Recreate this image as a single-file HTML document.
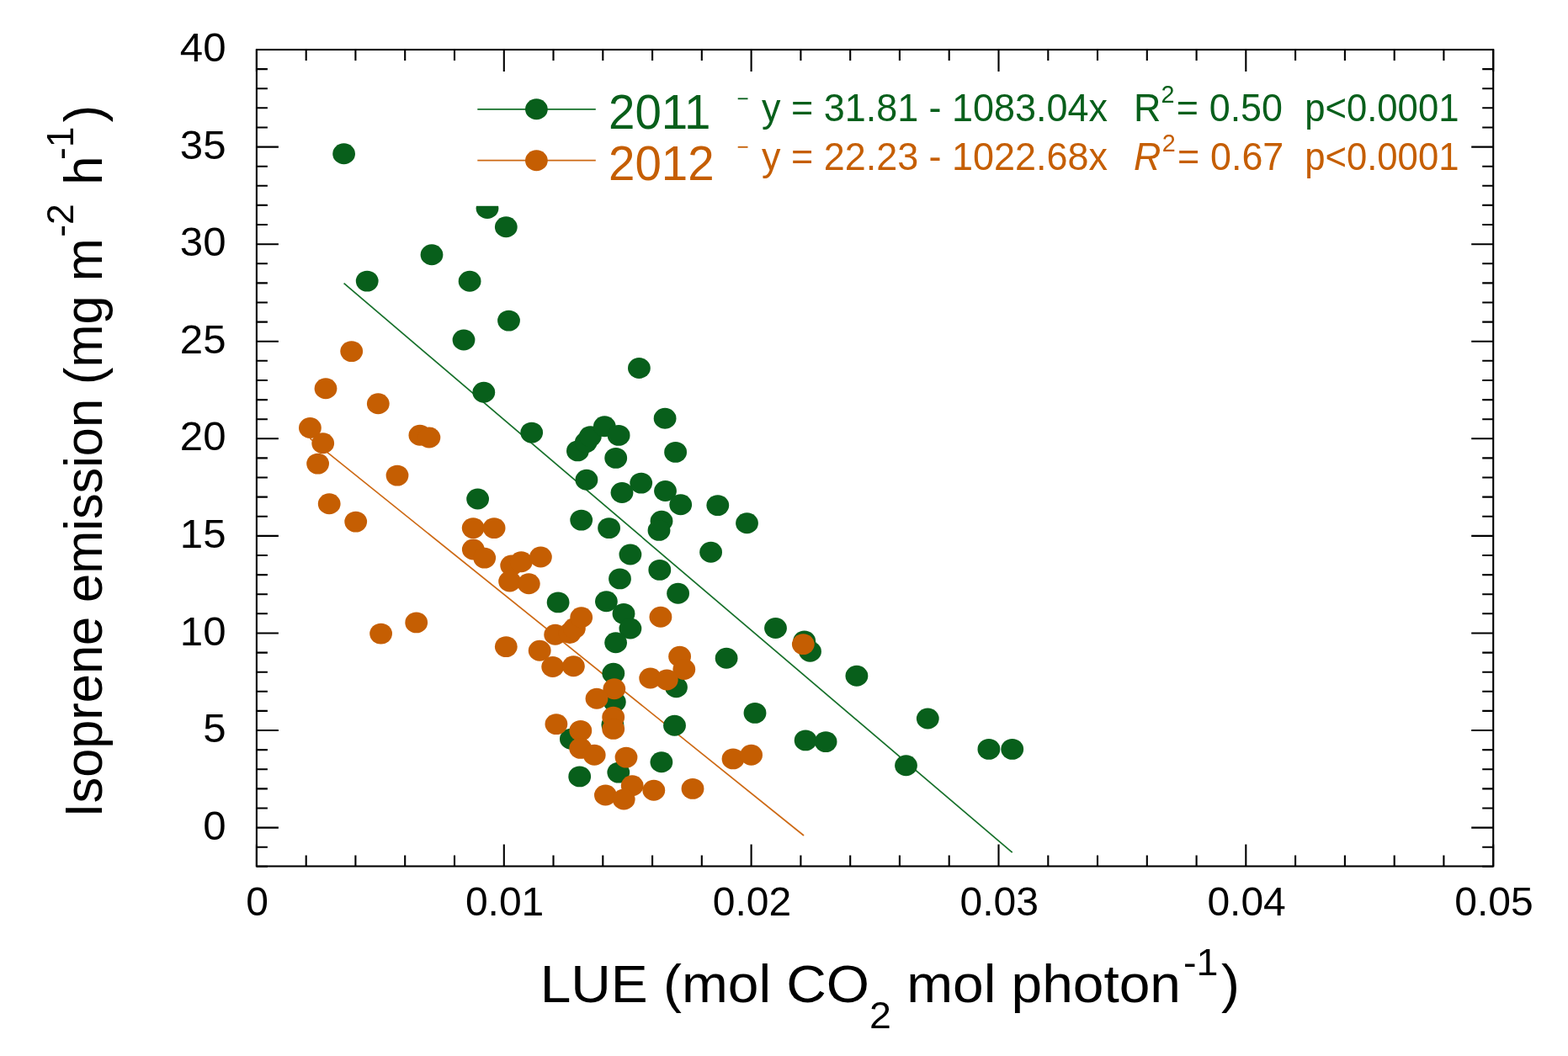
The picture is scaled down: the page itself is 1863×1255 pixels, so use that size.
<!DOCTYPE html><html><head><meta charset="utf-8"><style>html,body{margin:0;padding:0;background:#fff;}svg{display:block;}</style></head><body>
<svg width="1863" height="1255" viewBox="0 0 1863 1255" font-family="'Liberation Sans', sans-serif">
<rect width="1863" height="1255" fill="#fff"/>
<line x1="408.6" y1="336.7" x2="1202.7" y2="1013.2" stroke="#16702a" stroke-width="1.7"/>
<line x1="368.4" y1="521.1" x2="955.0" y2="993.0" stroke="#cd6914" stroke-width="1.7"/>
<g fill="#085f1b">
<ellipse cx="408.6" cy="182.7" rx="13.4" ry="12.45"/>
<ellipse cx="579.0" cy="247.5" rx="13.4" ry="12.45"/>
<ellipse cx="601.3" cy="269.8" rx="13.4" ry="12.45"/>
<ellipse cx="513.0" cy="302.7" rx="13.4" ry="12.45"/>
<ellipse cx="436.2" cy="334.1" rx="13.4" ry="12.45"/>
<ellipse cx="558.1" cy="334.2" rx="13.4" ry="12.45"/>
<ellipse cx="604.5" cy="381.1" rx="13.4" ry="12.45"/>
<ellipse cx="551.0" cy="404.0" rx="13.4" ry="12.45"/>
<ellipse cx="574.8" cy="466.3" rx="13.4" ry="12.45"/>
<ellipse cx="631.7" cy="514.1" rx="13.4" ry="12.45"/>
<ellipse cx="759.4" cy="437.5" rx="13.4" ry="12.45"/>
<ellipse cx="790.1" cy="497.2" rx="13.4" ry="12.45"/>
<ellipse cx="686.4" cy="535.9" rx="13.4" ry="12.45"/>
<ellipse cx="696.3" cy="525.6" rx="13.4" ry="12.45"/>
<ellipse cx="701.4" cy="518.6" rx="13.4" ry="12.45"/>
<ellipse cx="718.3" cy="506.8" rx="13.4" ry="12.45"/>
<ellipse cx="735.1" cy="517.4" rx="13.4" ry="12.45"/>
<ellipse cx="731.7" cy="544.4" rx="13.4" ry="12.45"/>
<ellipse cx="802.6" cy="537.4" rx="13.4" ry="12.45"/>
<ellipse cx="567.6" cy="593.0" rx="13.4" ry="12.45"/>
<ellipse cx="696.9" cy="570.2" rx="13.4" ry="12.45"/>
<ellipse cx="761.7" cy="574.1" rx="13.4" ry="12.45"/>
<ellipse cx="739.0" cy="585.5" rx="13.4" ry="12.45"/>
<ellipse cx="790.5" cy="583.5" rx="13.4" ry="12.45"/>
<ellipse cx="808.7" cy="599.8" rx="13.4" ry="12.45"/>
<ellipse cx="852.8" cy="600.6" rx="13.4" ry="12.45"/>
<ellipse cx="887.5" cy="621.8" rx="13.4" ry="12.45"/>
<ellipse cx="690.7" cy="618.1" rx="13.4" ry="12.45"/>
<ellipse cx="723.6" cy="627.6" rx="13.4" ry="12.45"/>
<ellipse cx="786.0" cy="619.2" rx="13.4" ry="12.45"/>
<ellipse cx="783.0" cy="630.4" rx="13.4" ry="12.45"/>
<ellipse cx="748.9" cy="659.0" rx="13.4" ry="12.45"/>
<ellipse cx="844.6" cy="656.3" rx="13.4" ry="12.45"/>
<ellipse cx="783.8" cy="677.4" rx="13.4" ry="12.45"/>
<ellipse cx="736.5" cy="687.9" rx="13.4" ry="12.45"/>
<ellipse cx="805.6" cy="705.3" rx="13.4" ry="12.45"/>
<ellipse cx="663.1" cy="715.9" rx="13.4" ry="12.45"/>
<ellipse cx="720.4" cy="714.7" rx="13.4" ry="12.45"/>
<ellipse cx="741.0" cy="729.4" rx="13.4" ry="12.45"/>
<ellipse cx="748.9" cy="747.0" rx="13.4" ry="12.45"/>
<ellipse cx="731.6" cy="763.8" rx="13.4" ry="12.45"/>
<ellipse cx="863.1" cy="782.2" rx="13.4" ry="12.45"/>
<ellipse cx="728.8" cy="800.3" rx="13.4" ry="12.45"/>
<ellipse cx="803.5" cy="816.7" rx="13.4" ry="12.45"/>
<ellipse cx="730.3" cy="834.2" rx="13.4" ry="12.45"/>
<ellipse cx="727.9" cy="861.3" rx="13.4" ry="12.45"/>
<ellipse cx="801.5" cy="862.2" rx="13.4" ry="12.45"/>
<ellipse cx="678.4" cy="878.3" rx="13.4" ry="12.45"/>
<ellipse cx="785.9" cy="905.8" rx="13.4" ry="12.45"/>
<ellipse cx="688.7" cy="922.9" rx="13.4" ry="12.45"/>
<ellipse cx="734.8" cy="918.1" rx="13.4" ry="12.45"/>
<ellipse cx="921.5" cy="746.5" rx="13.4" ry="12.45"/>
<ellipse cx="955.7" cy="761.9" rx="13.4" ry="12.45"/>
<ellipse cx="962.5" cy="774.2" rx="13.4" ry="12.45"/>
<ellipse cx="1017.9" cy="803.3" rx="13.4" ry="12.45"/>
<ellipse cx="897.0" cy="847.4" rx="13.4" ry="12.45"/>
<ellipse cx="957.1" cy="879.9" rx="13.4" ry="12.45"/>
<ellipse cx="981.1" cy="881.6" rx="13.4" ry="12.45"/>
<ellipse cx="1102.3" cy="854.0" rx="13.4" ry="12.45"/>
<ellipse cx="1076.5" cy="909.7" rx="13.4" ry="12.45"/>
<ellipse cx="1174.9" cy="890.4" rx="13.4" ry="12.45"/>
<ellipse cx="1202.7" cy="890.4" rx="13.4" ry="12.45"/>
</g>
<g fill="#c55e02">
<ellipse cx="417.7" cy="417.6" rx="13.4" ry="12.45"/>
<ellipse cx="387.0" cy="461.8" rx="13.4" ry="12.45"/>
<ellipse cx="449.3" cy="479.8" rx="13.4" ry="12.45"/>
<ellipse cx="368.4" cy="508.5" rx="13.4" ry="12.45"/>
<ellipse cx="383.7" cy="526.7" rx="13.4" ry="12.45"/>
<ellipse cx="377.6" cy="551.1" rx="13.4" ry="12.45"/>
<ellipse cx="498.9" cy="517.3" rx="13.4" ry="12.45"/>
<ellipse cx="509.9" cy="520.0" rx="13.4" ry="12.45"/>
<ellipse cx="472.0" cy="565.1" rx="13.4" ry="12.45"/>
<ellipse cx="391.2" cy="598.7" rx="13.4" ry="12.45"/>
<ellipse cx="422.7" cy="620.1" rx="13.4" ry="12.45"/>
<ellipse cx="452.6" cy="753.1" rx="13.4" ry="12.45"/>
<ellipse cx="494.7" cy="739.9" rx="13.4" ry="12.45"/>
<ellipse cx="601.3" cy="768.6" rx="13.4" ry="12.45"/>
<ellipse cx="562.2" cy="627.6" rx="13.4" ry="12.45"/>
<ellipse cx="587.1" cy="627.6" rx="13.4" ry="12.45"/>
<ellipse cx="562.3" cy="653.0" rx="13.4" ry="12.45"/>
<ellipse cx="575.7" cy="663.1" rx="13.4" ry="12.45"/>
<ellipse cx="607.7" cy="672.0" rx="13.4" ry="12.45"/>
<ellipse cx="619.3" cy="667.7" rx="13.4" ry="12.45"/>
<ellipse cx="642.4" cy="662.0" rx="13.4" ry="12.45"/>
<ellipse cx="605.6" cy="691.0" rx="13.4" ry="12.45"/>
<ellipse cx="628.3" cy="693.8" rx="13.4" ry="12.45"/>
<ellipse cx="659.7" cy="754.2" rx="13.4" ry="12.45"/>
<ellipse cx="677.0" cy="752.5" rx="13.4" ry="12.45"/>
<ellipse cx="682.4" cy="746.7" rx="13.4" ry="12.45"/>
<ellipse cx="690.7" cy="733.7" rx="13.4" ry="12.45"/>
<ellipse cx="641.2" cy="773.3" rx="13.4" ry="12.45"/>
<ellipse cx="656.7" cy="792.5" rx="13.4" ry="12.45"/>
<ellipse cx="681.4" cy="791.8" rx="13.4" ry="12.45"/>
<ellipse cx="729.8" cy="818.7" rx="13.4" ry="12.45"/>
<ellipse cx="709.0" cy="830.2" rx="13.4" ry="12.45"/>
<ellipse cx="728.7" cy="852.3" rx="13.4" ry="12.45"/>
<ellipse cx="728.7" cy="866.4" rx="13.4" ry="12.45"/>
<ellipse cx="660.9" cy="860.6" rx="13.4" ry="12.45"/>
<ellipse cx="689.8" cy="868.4" rx="13.4" ry="12.45"/>
<ellipse cx="689.7" cy="889.4" rx="13.4" ry="12.45"/>
<ellipse cx="706.2" cy="897.3" rx="13.4" ry="12.45"/>
<ellipse cx="744.0" cy="900.1" rx="13.4" ry="12.45"/>
<ellipse cx="751.2" cy="933.7" rx="13.4" ry="12.45"/>
<ellipse cx="776.8" cy="939.2" rx="13.4" ry="12.45"/>
<ellipse cx="719.4" cy="945.0" rx="13.4" ry="12.45"/>
<ellipse cx="741.2" cy="950.0" rx="13.4" ry="12.45"/>
<ellipse cx="823.0" cy="937.4" rx="13.4" ry="12.45"/>
<ellipse cx="784.9" cy="733.3" rx="13.4" ry="12.45"/>
<ellipse cx="807.6" cy="780.3" rx="13.4" ry="12.45"/>
<ellipse cx="812.8" cy="795.5" rx="13.4" ry="12.45"/>
<ellipse cx="772.7" cy="806.0" rx="13.4" ry="12.45"/>
<ellipse cx="792.3" cy="808.0" rx="13.4" ry="12.45"/>
<ellipse cx="954.3" cy="765.6" rx="13.4" ry="12.45"/>
<ellipse cx="871.0" cy="901.9" rx="13.4" ry="12.45"/>
<ellipse cx="892.6" cy="897.2" rx="13.4" ry="12.45"/>
</g>
<rect x="545" y="90" width="1200" height="154.8" fill="#fff"/>
<g stroke="#000" stroke-width="2.1" fill="none" stroke-linecap="square">
<rect x="304.9" y="59.0" width="1469.3000000000002" height="970.5"/>
<path d="M304.9 1029.8h13M1774.2 1029.8h-13M304.9 1006.7h13M1774.2 1006.7h-13M304.9 983.6h26M1774.2 983.6h-26M304.9 960.5h13M1774.2 960.5h-13M304.9 937.4h13M1774.2 937.4h-13M304.9 914.3h13M1774.2 914.3h-13M304.9 891.1h13M1774.2 891.1h-13M304.9 868.0h26M1774.2 868.0h-26M304.9 844.9h13M1774.2 844.9h-13M304.9 821.8h13M1774.2 821.8h-13M304.9 798.7h13M1774.2 798.7h-13M304.9 775.6h13M1774.2 775.6h-13M304.9 752.5h26M1774.2 752.5h-26M304.9 729.3h13M1774.2 729.3h-13M304.9 706.2h13M1774.2 706.2h-13M304.9 683.1h13M1774.2 683.1h-13M304.9 660.0h13M1774.2 660.0h-13M304.9 636.9h26M1774.2 636.9h-26M304.9 613.8h13M1774.2 613.8h-13M304.9 590.6h13M1774.2 590.6h-13M304.9 567.5h13M1774.2 567.5h-13M304.9 544.4h13M1774.2 544.4h-13M304.9 521.3h26M1774.2 521.3h-26M304.9 498.2h13M1774.2 498.2h-13M304.9 475.1h13M1774.2 475.1h-13M304.9 452.0h13M1774.2 452.0h-13M304.9 428.8h13M1774.2 428.8h-13M304.9 405.7h26M1774.2 405.7h-26M304.9 382.6h13M1774.2 382.6h-13M304.9 359.5h13M1774.2 359.5h-13M304.9 336.4h13M1774.2 336.4h-13M304.9 313.3h13M1774.2 313.3h-13M304.9 290.2h26M1774.2 290.2h-26M304.9 267.0h13M1774.2 267.0h-13M304.9 243.9h13M1774.2 243.9h-13M304.9 220.8h13M1774.2 220.8h-13M304.9 197.7h13M1774.2 197.7h-13M304.9 174.6h26M1774.2 174.6h-26M304.9 151.5h13M1774.2 151.5h-13M304.9 128.3h13M1774.2 128.3h-13M304.9 105.2h13M1774.2 105.2h-13M304.9 82.1h13M1774.2 82.1h-13M304.9 59.0h26M1774.2 59.0h-26M304.9 1029.5v-26M304.9 59.0v26M363.7 1029.5v-13M363.7 59.0v13M422.4 1029.5v-13M422.4 59.0v13M481.2 1029.5v-13M481.2 59.0v13M540.0 1029.5v-13M540.0 59.0v13M598.8 1029.5v-26M598.8 59.0v26M657.5 1029.5v-13M657.5 59.0v13M716.3 1029.5v-13M716.3 59.0v13M775.1 1029.5v-13M775.1 59.0v13M833.8 1029.5v-13M833.8 59.0v13M892.6 1029.5v-26M892.6 59.0v26M951.4 1029.5v-13M951.4 59.0v13M1010.2 1029.5v-13M1010.2 59.0v13M1068.9 1029.5v-13M1068.9 59.0v13M1127.7 1029.5v-13M1127.7 59.0v13M1186.5 1029.5v-26M1186.5 59.0v26M1245.3 1029.5v-13M1245.3 59.0v13M1304.0 1029.5v-13M1304.0 59.0v13M1362.8 1029.5v-13M1362.8 59.0v13M1421.6 1029.5v-13M1421.6 59.0v13M1480.3 1029.5v-26M1480.3 59.0v26M1539.1 1029.5v-13M1539.1 59.0v13M1597.9 1029.5v-13M1597.9 59.0v13M1656.7 1029.5v-13M1656.7 59.0v13M1715.4 1029.5v-13M1715.4 59.0v13M1774.2 1029.5v-26M1774.2 59.0v26" stroke-linecap="butt"/>
</g>
<g font-size="48" fill="#000">
<text transform="translate(268.5 997.6) scale(1.025 1)" text-anchor="end">0</text>
<text transform="translate(268.5 882.0) scale(1.025 1)" text-anchor="end">5</text>
<text transform="translate(268.5 766.5) scale(1.025 1)" text-anchor="end">10</text>
<text transform="translate(268.5 650.9) scale(1.025 1)" text-anchor="end">15</text>
<text transform="translate(268.5 535.3) scale(1.025 1)" text-anchor="end">20</text>
<text transform="translate(268.5 419.7) scale(1.025 1)" text-anchor="end">25</text>
<text transform="translate(268.5 304.2) scale(1.025 1)" text-anchor="end">30</text>
<text transform="translate(268.5 188.6) scale(1.025 1)" text-anchor="end">35</text>
<text transform="translate(268.5 73.0) scale(1.025 1)" text-anchor="end">40</text>
<text x="305.7" y="1087.8" text-anchor="middle">0</text>
<text x="599.6" y="1087.8" text-anchor="middle">0.01</text>
<text x="893.4" y="1087.8" text-anchor="middle">0.02</text>
<text x="1187.3" y="1087.8" text-anchor="middle">0.03</text>
<text x="1481.1" y="1087.8" text-anchor="middle">0.04</text>
<text x="1775.0" y="1087.8" text-anchor="middle">0.05</text>
</g>
<text transform="translate(641.7 1191) scale(1.0585 1)" font-size="62.2" xml:space="preserve"><tspan font-size="62.2" dy="0" dx="0">LUE (mol CO</tspan><tspan font-size="44" dy="30.8" dx="0">2</tspan><tspan font-size="62.2" dy="-30.8" dx="0"> mol photon</tspan><tspan font-size="44" dy="-32.3" dx="2.8">-1</tspan><tspan font-size="62.2" dy="32.3" dx="3.5">)</tspan></text>
<text transform="translate(121 971.5) scale(1 0.9857) rotate(-90)" font-size="62.2" xml:space="preserve"><tspan font-size="62.2" dy="0" dx="0">Isoprene emission (mg m</tspan><tspan font-size="45" dy="-34.4" dx="1.5">-2</tspan><tspan font-size="62.2" dy="34.4" dx="5.7"> h</tspan><tspan font-size="45" dy="-34.4" dx="-4.4">-1</tspan><tspan font-size="62.2" dy="34.4" dx="-11.9"> )</tspan></text>
<line x1="567.3" y1="129.8" x2="707.8" y2="129.8" stroke="#16702a" stroke-width="1.8"/>
<ellipse cx="637.4" cy="129.8" rx="13.4" ry="12.45" fill="#085f1b"/>
<text x="723" y="152.9" font-size="56.5" fill="#085f1b">2011</text>
<line x1="876.7" y1="117.3" x2="888.5" y2="117.3" stroke="#085f1b" stroke-width="1.8"/>
<text transform="translate(905 144.4) scale(0.977 1)" font-size="46" fill="#085f1b" xml:space="preserve">y = 31.81 - 1083.04x</text>
<text transform="translate(1347 144.4) scale(0.975 1)" font-size="46" fill="#085f1b" xml:space="preserve">R<tspan font-size="29.5" dy="-22" dx="0">2</tspan><tspan dy="22" dx="2.5">=</tspan><tspan dx="0.3"> 0.50</tspan></text>
<text transform="translate(1550.2 144.4) scale(0.949 1)" font-size="46" fill="#085f1b">p&lt;0.0001</text>
<line x1="567.3" y1="190.7" x2="707.8" y2="190.7" stroke="#cd6914" stroke-width="1.8"/>
<ellipse cx="637.4" cy="190.7" rx="13.4" ry="12.45" fill="#c55e02"/>
<text x="723" y="214.1" font-size="56.5" fill="#c55e02">2012</text>
<line x1="876.7" y1="174.8" x2="888.5" y2="174.8" stroke="#c55e02" stroke-width="1.8"/>
<text transform="translate(905 201.8) scale(0.977 1)" font-size="46" fill="#c55e02" xml:space="preserve">y = 22.23 - 1022.68x</text>
<text transform="translate(1347 201.8) scale(0.975 1)" font-size="46" fill="#c55e02" xml:space="preserve"><tspan font-style="italic">R</tspan><tspan font-size="29.5" dy="-22" dx="1.3">2</tspan><tspan dy="22" dx="2.5">=</tspan><tspan dx="0.3"> 0.67</tspan></text>
<text transform="translate(1550.2 201.8) scale(0.949 1)" font-size="46" fill="#c55e02">p&lt;0.0001</text>
</svg></body></html>
